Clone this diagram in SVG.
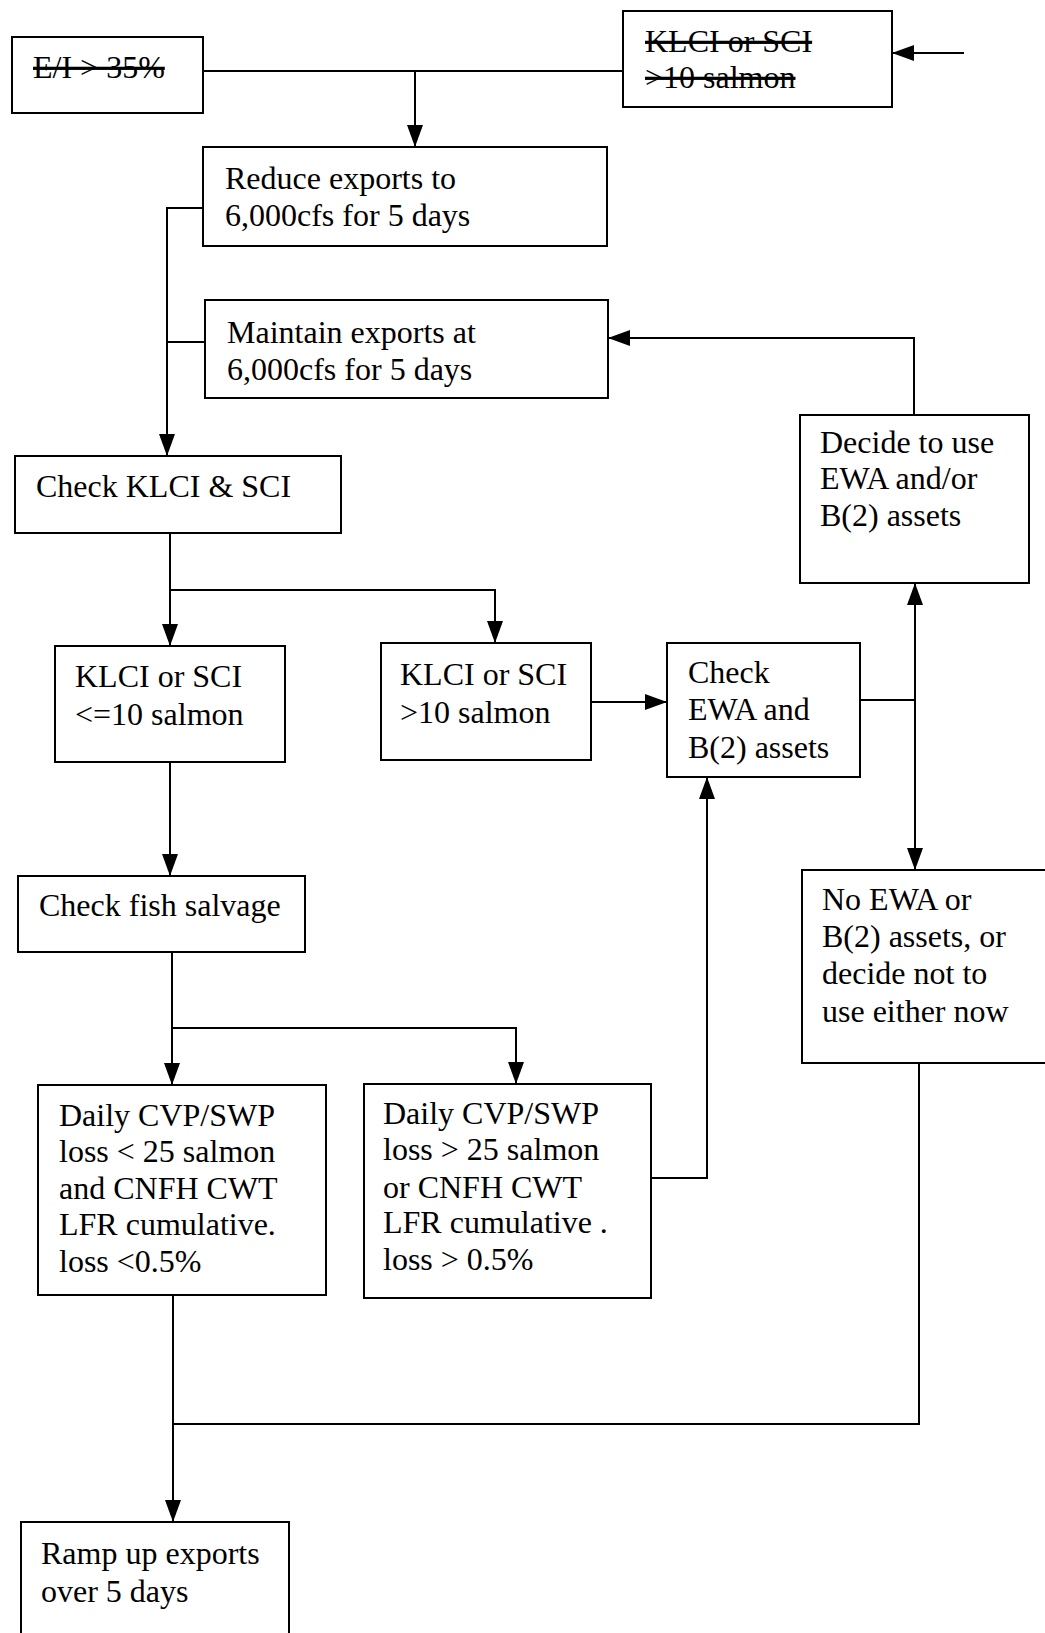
<svg xmlns="http://www.w3.org/2000/svg" width="1045" height="1633" viewBox="0 0 1045 1633">
<style>
.box{fill:#fff;stroke:#000;stroke-width:2}
.t{font-family:"Liberation Serif","Times New Roman",serif;font-size:32px;fill:#000}
.s{text-decoration:line-through}
.c{fill:none;stroke:#000;stroke-width:2}
</style>
<defs>
<marker id="ah" markerUnits="userSpaceOnUse" markerWidth="22" markerHeight="16" refX="22" refY="8" orient="auto">
<path d="M0,0 L22,8 L0,16 z" fill="#000"/>
</marker>
</defs>
<rect width="1045" height="1633" fill="#fff"/>
<g id="connectors">
<path class="c" d="M203,71 H623"/>
<path class="c" d="M415,71 V147" marker-end="url(#ah)"/>
<path class="c" d="M964,53 H892" marker-end="url(#ah)"/>
<path class="c" d="M203,208 H167 V456" marker-end="url(#ah)"/>
<path class="c" d="M205,342 H167"/>
<path class="c" d="M914,415 V338 H608" marker-end="url(#ah)"/>
<path class="c" d="M170,533 V646" marker-end="url(#ah)"/>
<path class="c" d="M170,590 H495 V643" marker-end="url(#ah)"/>
<path class="c" d="M591,702 H667" marker-end="url(#ah)"/>
<path class="c" d="M860,700 H915"/>
<path class="c" d="M915,700 V583" marker-end="url(#ah)"/>
<path class="c" d="M915,700 V870" marker-end="url(#ah)"/>
<path class="c" d="M170,762 V876" marker-end="url(#ah)"/>
<path class="c" d="M172,952 V1085" marker-end="url(#ah)"/>
<path class="c" d="M172,1028 H516 V1084" marker-end="url(#ah)"/>
<path class="c" d="M651,1178 H707 V777" marker-end="url(#ah)"/>
<path class="c" d="M173,1295 V1522" marker-end="url(#ah)"/>
<path class="c" d="M919,1063 V1424 H173"/>
</g>
<g id="ei">
<rect class="box" x="12" y="37" width="191" height="76"/>
<text class="t s" x="33" y="78">E/I &gt; 35%</text>
</g>
<g id="klci-top">
<rect class="box" x="623" y="11" width="269" height="96"/>
<text class="t s" x="645" y="52">KLCI or SCI</text>
<text class="t s" x="645" y="88">&gt;10 salmon</text>
</g>
<g id="reduce">
<rect class="box" x="203" y="147" width="404" height="99"/>
<text class="t" x="225" y="189">Reduce exports to</text>
<text class="t" x="225" y="226">6,000cfs for 5 days</text>
</g>
<g id="maintain">
<rect class="box" x="205" y="300" width="403" height="98"/>
<text class="t" x="227" y="343">Maintain exports at</text>
<text class="t" x="227" y="380">6,000cfs for 5 days</text>
</g>
<g id="check-klci">
<rect class="box" x="15" y="456" width="326" height="77"/>
<text class="t" x="36" y="497">Check KLCI &amp; SCI</text>
</g>
<g id="decide">
<rect class="box" x="800" y="415" width="229" height="168"/>
<text class="t" x="820" y="453">Decide to use</text>
<text class="t" x="820" y="489">EWA and/or</text>
<text class="t" x="820" y="526">B(2) assets</text>
</g>
<g id="klci-le10">
<rect class="box" x="55" y="646" width="230" height="116"/>
<text class="t" x="75" y="687">KLCI or SCI</text>
<text class="t" x="75" y="725">&lt;=10 salmon</text>
</g>
<g id="klci-gt10">
<rect class="box" x="381" y="643" width="210" height="117"/>
<text class="t" x="400" y="685">KLCI or SCI</text>
<text class="t" x="400" y="723">&gt;10 salmon</text>
</g>
<g id="check-ewa">
<rect class="box" x="667" y="643" width="193" height="134"/>
<text class="t" x="688" y="683">Check</text>
<text class="t" x="688" y="720">EWA and</text>
<text class="t" x="688" y="758">B(2) assets</text>
</g>
<g id="fish-salvage">
<rect class="box" x="18" y="876" width="287" height="76"/>
<text class="t" x="39" y="916">Check fish salvage</text>
</g>
<g id="no-ewa">
<rect class="box" x="802" y="870" width="246" height="193"/>
<text class="t" x="822" y="910">No EWA or</text>
<text class="t" x="822" y="947">B(2) assets, or</text>
<text class="t" x="822" y="984">decide not to</text>
<text class="t" x="822" y="1022">use either now</text>
</g>
<g id="daily-low">
<rect class="box" x="38" y="1085" width="288" height="210"/>
<text class="t" x="59" y="1126">Daily CVP/SWP</text>
<text class="t" x="59" y="1162">loss &lt; 25 salmon</text>
<text class="t" x="59" y="1199">and CNFH CWT</text>
<text class="t" x="59" y="1235">LFR cumulative.</text>
<text class="t" x="59" y="1272">loss &lt;0.5%</text>
</g>
<g id="daily-high">
<rect class="box" x="364" y="1084" width="287" height="214"/>
<text class="t" x="383" y="1124">Daily CVP/SWP</text>
<text class="t" x="383" y="1160">loss &gt; 25 salmon</text>
<text class="t" x="383" y="1198">or CNFH CWT</text>
<text class="t" x="383" y="1233">LFR cumulative .</text>
<text class="t" x="383" y="1270">loss &gt; 0.5%</text>
</g>
<g id="ramp">
<rect class="box" x="21" y="1522" width="268" height="120"/>
<text class="t" x="41" y="1564">Ramp up exports</text>
<text class="t" x="41" y="1602">over 5 days</text>
</g>
</svg>
